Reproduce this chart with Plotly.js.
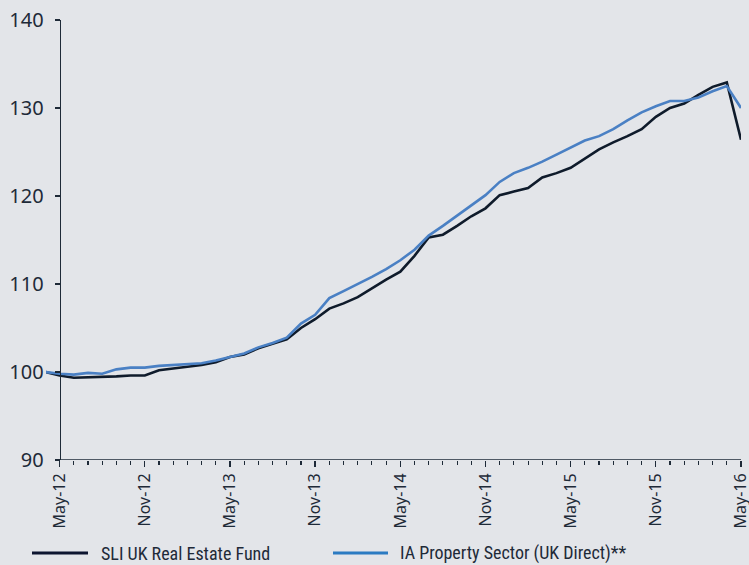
<!DOCTYPE html>
<html>
<head>
<meta charset="utf-8">
<script src="https://cdn.plot.ly/plotly-3.0.1.min.js"></script>
<style>
  html, body { margin: 0; padding: 0; background: #e3e5e9; }
  #chart { width: 749px; height: 565px; }
</style>
</head>
<body>
<div id="chart"></div>
<script>
// Monthly index values, Apr-12 .. May-16
const months = ['Apr-12','May-12','Jun-12','Jul-12','Aug-12','Sep-12','Oct-12','Nov-12','Dec-12','Jan-13','Feb-13','Mar-13',
  'Apr-13','May-13','Jun-13','Jul-13','Aug-13','Sep-13','Oct-13','Nov-13','Dec-13','Jan-14','Feb-14','Mar-14',
  'Apr-14','May-14','Jun-14','Jul-14','Aug-14','Sep-14','Oct-14','Nov-14','Dec-14','Jan-15','Feb-15','Mar-15',
  'Apr-15','May-15','Jun-15','Jul-15','Aug-15','Sep-15','Oct-15','Nov-15','Dec-15','Jan-16','Feb-16','Mar-16',
  'Apr-16','May-16'];
const sliFund = [100.0, 99.6, 99.35, 99.4, 99.4, 99.5, 99.6, 99.6, 100.2, 100.4, 100.6, 100.8,
  101.1, 101.7, 102.0, 102.7, 103.2, 103.7, 105.0, 106.0, 107.2, 107.8, 108.5, 109.5,
  110.5, 111.4, 113.2, 115.3, 115.6, 116.6, 117.7, 118.6, 120.1, 120.5, 120.9, 122.1,
  122.6, 123.2, 124.3, 125.3, 126.1, 126.8, 127.6, 129.0, 130.0, 130.5, 131.5, 132.4,
  132.9, 126.4];
const iaSector = [100.0, 99.8, 99.7, 99.9, 99.8, 100.3, 100.5, 100.5, 100.7, 100.8, 100.9, 101.0,
  101.3, 101.7, 102.1, 102.8, 103.3, 103.9, 105.5, 106.5, 108.4, 109.2, 110.0, 110.8,
  111.7, 112.7, 113.9, 115.5, 116.6, 117.8, 119.0, 120.1, 121.6, 122.6, 123.2, 123.9,
  124.7, 125.5, 126.3, 126.8, 127.6, 128.6, 129.5, 130.2, 130.8, 130.8, 131.2, 131.9,
  132.5, 130.0];
const seriesNames = ['SLI UK Real Estate Fund', 'IA Property Sector (UK Direct)**'];
const yTicks = [90, 100, 110, 120, 130, 140];

const xIdx = months.map((m, i) => i);
const majorIdx = xIdx.filter(i => (i - 1) % 6 === 0 && i >= 1);
const minorIdx = xIdx.filter(i => i >= 1 && (i - 1) % 6 !== 0);

const textColor = '#1e2a38';
const bg = '#e3e5e9';
const blackCol = '#0f1b2b';
const blueCol = '#4a80c4';

const W = 749, H = 565;
const mL = 46, mR = 8, mT = 20, mB = 105;
const xRange = [0.04, 49];
const pw = W - mL - mR, ph = H - mT - mB;
const pxToPaperX = px => (px - mL) / pw;
const pxToPaperY = py => (H - mB - py) / ph;

const traces = [
  { x: xIdx, y: sliFund, type: 'scatter', mode: 'lines', name: seriesNames[0],
    line: { color: blackCol, width: 2.6 }, hoverinfo: 'skip' },
  { x: xIdx, y: iaSector, type: 'scatter', mode: 'lines', name: seriesNames[1],
    line: { color: blueCol, width: 2.6 }, hoverinfo: 'skip' }
];

const legendY = pxToPaperY(553);
const shapes = [
  // x axis line from May-12 to May-16
  { type: 'line', xref: 'x', yref: 'y', x0: 1, x1: 49, y0: 90, y1: 90,
    line: { color: textColor, width: 1.3 }, layer: 'below' },
  // legend samples
  { type: 'line', xref: 'paper', yref: 'paper', x0: pxToPaperX(32), x1: pxToPaperX(88), y0: legendY, y1: legendY,
    line: { color: '#0d1530', width: 3 } },
  { type: 'line', xref: 'paper', yref: 'paper', x0: pxToPaperX(333), x1: pxToPaperX(388), y0: legendY, y1: legendY,
    line: { color: '#2b7bc2', width: 3 } }
];

const legendFont = { family: 'Liberation Sans Narrow, Roboto Condensed, Arial Narrow, sans-serif', size: 18, color: textColor };
const annotations = [
  { xref: 'paper', yref: 'paper', x: pxToPaperX(99), y: legendY, xanchor: 'left', yanchor: 'middle',
    text: seriesNames[0], showarrow: false, font: legendFont },
  { xref: 'paper', yref: 'paper', x: pxToPaperX(398), y: legendY, xanchor: 'left', yanchor: 'middle',
    text: seriesNames[1], showarrow: false, font: legendFont }
];

const layout = {
  width: W, height: H,
  margin: { l: mL, r: mR, t: mT, b: mB, pad: 0 },
  paper_bgcolor: bg, plot_bgcolor: bg,
  showlegend: false,
  font: { family: '"Noto Sans", sans-serif', color: textColor },
  xaxis: {
    range: xRange, showgrid: false, zeroline: false, showline: false,
    tickmode: 'array', tickvals: majorIdx, ticktext: majorIdx.map(i => months[i]),
    ticks: 'outside', ticklen: 6, tickwidth: 1.3, tickcolor: textColor,
    tickangle: -90, tickfont: { size: 16, color: textColor }, ticklabeloverflow: 'allow',
    minor: { tickmode: 'array', tickvals: minorIdx, ticks: 'outside', ticklen: 4, tickwidth: 1.1, tickcolor: textColor, showgrid: false }
  },
  yaxis: {
    range: [90, 140], anchor: 'free', position: (1 - xRange[0]) / (xRange[1] - xRange[0]),
    showgrid: false, zeroline: false, showline: true, linecolor: textColor, linewidth: 1.3,
    tickmode: 'array', tickvals: yTicks, ticks: 'outside', ticklen: 5, tickwidth: 1.3, tickcolor: textColor,
    tickfont: { size: 20, color: textColor }, ticklabelstandoff: 7, ticklabeloverflow: 'allow'
  },
  shapes: shapes,
  annotations: annotations
};

Plotly.newPlot('chart', traces, layout, { staticPlot: true, displayModeBar: false });
</script>
</body>
</html>
